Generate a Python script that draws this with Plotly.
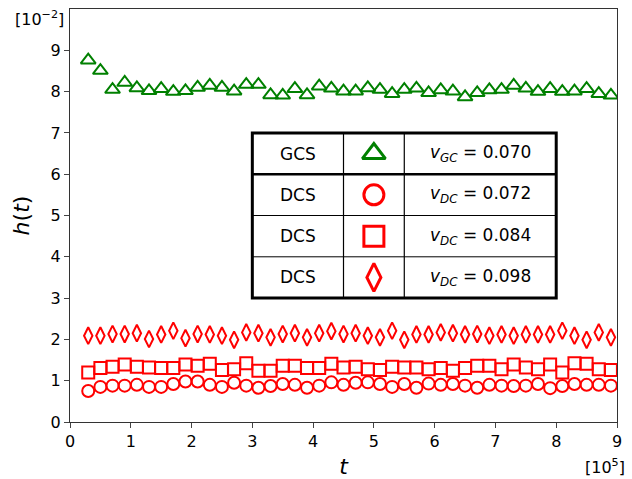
import plotly.graph_objects as go

# time (in units of 1e5)
t = [0.3 + 0.2 * i for i in range(44)]
t = [round(v, 1) for v in t]

# h(t) in units of 1e-2
gcs_070 = [8.76, 8.51, 8.05, 8.22, 8.09, 8.02, 8.07, 8.00, 8.02, 8.10,
           8.15, 8.10, 8.01, 8.17, 8.17, 7.92, 7.91, 8.07, 7.92, 8.13,
           8.08, 8.01, 8.01, 8.09, 8.05, 7.95, 8.05, 8.08, 7.97, 8.04,
           8.01, 7.87, 7.97, 8.04, 8.05, 8.15, 8.08, 8.00, 8.07, 8.00,
           8.01, 8.07, 7.95, 7.91]
dcs_072 = [0.75, 0.85, 0.88, 0.88, 0.90, 0.85, 0.85, 0.92, 0.98, 0.98,
           0.90, 0.85, 0.95, 0.88, 0.83, 0.87, 0.92, 0.90, 0.83, 0.88,
           0.96, 0.90, 0.95, 0.96, 0.92, 0.85, 0.92, 0.83, 0.93, 0.90,
           0.92, 0.88, 0.83, 0.90, 0.88, 0.87, 0.88, 0.92, 0.82, 0.87,
           0.92, 0.90, 0.90, 0.88]
dcs_084 = [1.20, 1.31, 1.34, 1.39, 1.34, 1.32, 1.31, 1.31, 1.39, 1.36,
           1.41, 1.26, 1.28, 1.42, 1.24, 1.24, 1.36, 1.36, 1.31, 1.31,
           1.41, 1.32, 1.34, 1.28, 1.26, 1.34, 1.32, 1.32, 1.28, 1.31,
           1.24, 1.31, 1.36, 1.36, 1.28, 1.39, 1.32, 1.28, 1.39, 1.20,
           1.42, 1.41, 1.28, 1.26]
dcs_098 = [2.09, 2.09, 2.13, 2.13, 2.15, 2.01, 2.12, 2.21, 2.03, 2.13,
           2.12, 2.09, 1.99, 2.17, 2.15, 2.05, 2.13, 2.15, 2.05, 2.15,
           2.20, 2.13, 2.15, 2.09, 2.05, 2.21, 1.99, 2.12, 2.12, 2.17,
           2.15, 2.12, 2.13, 2.09, 2.12, 2.09, 2.12, 2.12, 2.12, 2.21,
           2.09, 1.99, 2.17, 2.05]

x_ticks = list(range(10))
y_ticks = list(range(10))

# table content
tbl_names = ["GCS", "DCS", "DCS", "DCS"]
tbl_labels = ["<i>v</i><sub><i>GC</i></sub> = 0.070",
              "<i>v</i><sub><i>DC</i></sub> = 0.072",
              "<i>v</i><sub><i>DC</i></sub> = 0.084",
              "<i>v</i><sub><i>DC</i></sub> = 0.098"]
tbl_symbols = ["triangle-up-open", "circle-open", "square-open", "diamond-tall-open"]
tbl_colors = ["green", "red", "red", "red"]
tbl_rows_y = [6.5, 5.5, 4.5, 3.5]
tbl_x_edges = [3.0, 4.5, 5.5, 8.0]
tbl_y_edges = [7.0, 6.0, 5.0, 4.0, 3.0]

series = [(gcs_070, "triangle-up-open", "green", 13),
          (dcs_072, "circle-open", "red", 12),
          (dcs_084, "square-open", "red", 12),
          (dcs_098, "diamond-tall-open", "red", 12)]

fig = go.Figure()
for vals, sym, col, sz in series:
    fig.add_trace(go.Scatter(
        x=t, y=vals, mode="markers",
        marker=dict(symbol=sym, size=sz, color=col, line=dict(width=2, color=col)),
        showlegend=False, hoverinfo="skip"))

shapes = []
for i, yv in enumerate(tbl_y_edges[1:-1]):
    w = 2.5 if i == 0 else 1
    shapes.append(dict(type="line", xref="x", yref="y",
                       x0=tbl_x_edges[0], x1=tbl_x_edges[-1], y0=yv, y1=yv,
                       line=dict(color="black", width=w), layer="above"))
for xv in tbl_x_edges[1:-1]:
    shapes.append(dict(type="line", xref="x", yref="y",
                       x0=xv, x1=xv, y0=tbl_y_edges[-1], y1=tbl_y_edges[0],
                       line=dict(color="black", width=1.2), layer="above"))
shapes.append(dict(type="rect", xref="x", yref="y",
                   x0=tbl_x_edges[0], x1=tbl_x_edges[-1],
                   y0=tbl_y_edges[-1], y1=tbl_y_edges[0],
                   line=dict(color="black", width=3), layer="above"))

fig.add_trace(go.Scatter(
    x=[(tbl_x_edges[1] + tbl_x_edges[2]) / 2] * 4, y=tbl_rows_y, mode="markers",
    marker=dict(symbol=tbl_symbols, size=20, color=tbl_colors,
                line=dict(width=3, color=tbl_colors)),
    showlegend=False, hoverinfo="skip"))

annotations = []
for name, lab, yv in zip(tbl_names, tbl_labels, tbl_rows_y):
    annotations.append(dict(x=(tbl_x_edges[0] + tbl_x_edges[1]) / 2, y=yv,
                            xref="x", yref="y", text=name, showarrow=False,
                            font=dict(size=17, color="black")))
    annotations.append(dict(x=(tbl_x_edges[2] + tbl_x_edges[3]) / 2, y=yv,
                            xref="x", yref="y", text=lab, showarrow=False,
                            font=dict(size=17, color="black")))
annotations.append(dict(x=-0.007, y=0.976, xref="paper", yref="paper",
                        text="[10<sup>−2</sup>]", showarrow=False,
                        xanchor="right", yanchor="middle",
                        font=dict(size=16, color="black")))
annotations.append(dict(x=0.978, y=-0.107, xref="paper", yref="paper",
                        text="[10<sup>5</sup>]", showarrow=False,
                        xanchor="center", yanchor="middle",
                        font=dict(size=16, color="black")))

fig.update_layout(
    width=632, height=479,
    margin=dict(l=70, r=15, t=9, b=57),
    plot_bgcolor="white", paper_bgcolor="white",
    font=dict(family="DejaVu Sans", size=16, color="black"),
    shapes=shapes, annotations=annotations,
    xaxis=dict(range=[0, 9], tickvals=x_ticks, ticks="outside", ticklen=5,
               showline=True, linecolor="#333", linewidth=1, mirror=True,
               showgrid=False, zeroline=False, automargin=False,
               title=dict(text="<i>t</i>", font=dict(size=22), standoff=18)),
    yaxis=dict(range=[0, 10], tickvals=y_ticks, ticks="outside", ticklen=5,
               showline=True, linecolor="#333", linewidth=1, mirror=True,
               showgrid=False, zeroline=False, automargin=False,
               title=dict(text="<i>h</i>(<i>t</i>)", font=dict(size=22), standoff=14)),
)

fig.write_html("out.html", config={"displayModeBar": False},
               post_script="document.body.style.margin='0';document.body.style.overflow='hidden';")
